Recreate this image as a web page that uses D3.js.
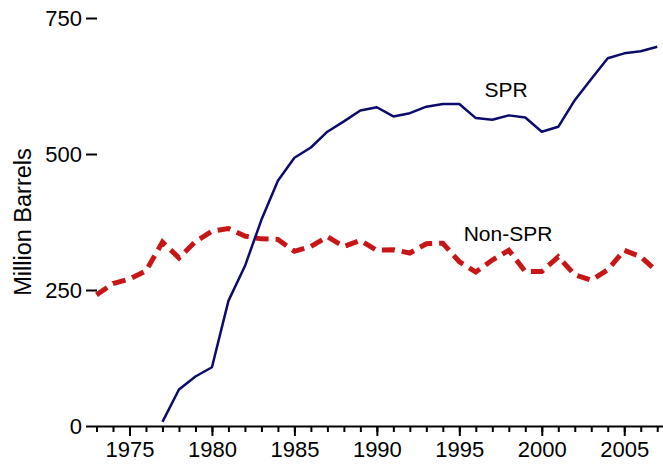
<!DOCTYPE html>
<html>
<head>
<meta charset="utf-8">
<script src="https://cdn.jsdelivr.net/npm/d3@7"></script>
<style>
  body { margin: 0; background: #fff; }
  text { font-family: "Liberation Sans", Arial, sans-serif; fill: #000; }
</style>
</head>
<body>
<div id="chart"></div>
<script>
// data, million barrels, end of year
const years = d3.range(1973, 2008);
const nonSpr = [241, 262, 270, 285, 338, 309, 339, 358, 363, 349, 344, 343,
  321, 330, 348, 330, 341, 323, 324, 318, 335, 336, 302, 283, 305, 323,
  284, 284, 311, 278, 268, 287, 323, 311, 284];
const sprYears = d3.range(1977, 2008);
const spr = [7.5, 67, 91, 108, 230, 294, 379, 451, 493, 512, 541, 560, 580,
  586, 569, 575, 587, 592, 592, 566, 563, 571, 567, 541, 550, 599, 638,
  676, 685, 689, 697];
const yTicks = [0, 250, 500, 750];
const majorYears = d3.range(1975, 2006, 5);

const width = 663, height = 466;

const svg = d3.select("#chart").append("svg")
  .attr("width", width)
  .attr("height", height);

const x = d3.scaleLinear().domain([1973, 2007.35]).range([96.5, 663]);
const y = d3.scaleLinear().domain([0, 750]).range([426, 18]);

// x axis: minor ticks every year, longer ones every 5
const xMinor = svg.append("g")
  .attr("transform", `translate(0,${y(0)})`)
  .call(d3.axisBottom(x).tickValues(years).tickSize(6).tickSizeOuter(0).tickFormat(""));
const xMajor = svg.append("g")
  .attr("transform", `translate(0,${y(0)})`)
  .call(d3.axisBottom(x).tickValues(majorYears).tickSize(10).tickPadding(5)
    .tickSizeOuter(0).tickFormat(d3.format("d")));
xMajor.select(".domain").remove();
[xMinor, xMajor].forEach(g => {
  g.selectAll("line").attr("stroke", "#000").attr("stroke-width", 2);
  g.selectAll(".domain").attr("stroke", "#000").attr("stroke-width", 2);
});
xMajor.selectAll("text").attr("font-size", 22).attr("fill", "#000");

// y axis, ticks only
const yAxis = svg.append("g")
  .attr("transform", "translate(97,0)")
  .call(d3.axisLeft(y).tickValues(yTicks).tickSize(11).tickPadding(4));
yAxis.select(".domain").remove();
yAxis.selectAll("line").attr("stroke", "#000").attr("stroke-width", 2);
yAxis.selectAll("text").attr("font-size", 22).attr("fill", "#000");

svg.append("text")
  .attr("transform", `translate(31,222) rotate(-90)`)
  .attr("text-anchor", "middle")
  .attr("font-size", 23.5)
  .text("Million Barrels");

// lines
const line = d3.line().x(d => x(d[0])).y(d => y(d[1]));

svg.append("path")
  .datum(years.map((yr, i) => [yr, nonSpr[i]]))
  .attr("d", line)
  .attr("fill", "none")
  .attr("stroke", "#c81616")
  .attr("stroke-width", 5)
  .attr("stroke-dasharray", "13,7");

svg.append("path")
  .datum(sprYears.map((yr, i) => [yr, spr[i]]))
  .attr("d", line)
  .attr("fill", "none")
  .attr("stroke", "#0b0b6b")
  .attr("stroke-width", 2.5)
  .attr("stroke-linejoin", "round");

// series labels
svg.append("text").attr("x", 506).attr("y", 97)
  .attr("text-anchor", "middle").attr("font-size", 21).text("SPR");
svg.append("text").attr("x", 508).attr("y", 241)
  .attr("text-anchor", "middle").attr("font-size", 21).text("Non-SPR");
</script>
</body>
</html>
